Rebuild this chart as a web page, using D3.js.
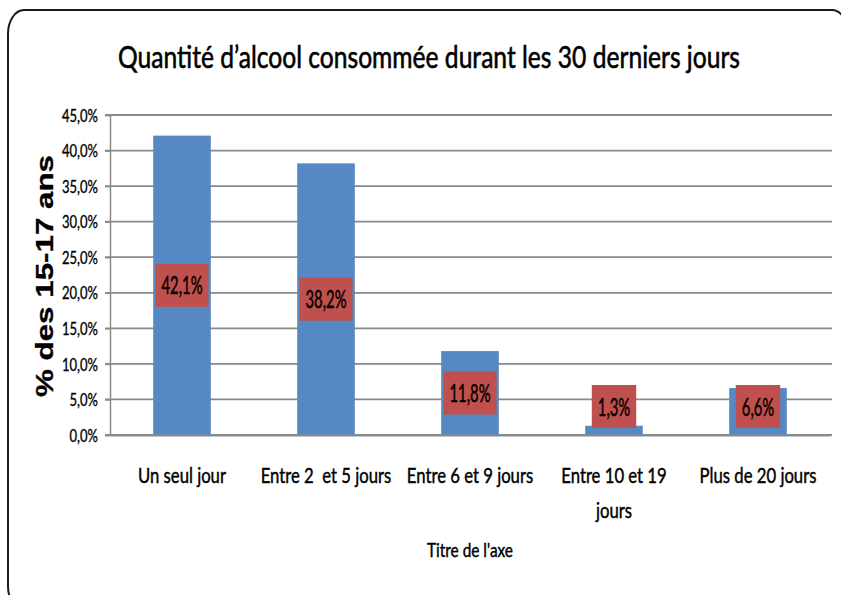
<!DOCTYPE html>
<html>
<head>
<meta charset="utf-8">
<script src="https://cdn.jsdelivr.net/npm/d3@7"></script>
<style>
  body { margin: 0; background: #fff; }
  svg { display: block; }
  text { font-family: Lato, sans-serif; fill: #000; white-space: pre; stroke: #000; stroke-width: 0.45px; }
</style>
</head>
<body>
<svg></svg>
<script>
// chart data
const categories = ['Un seul jour', 'Entre 2  et 5 jours', 'Entre 6 et 9 jours', 'Entre 10 et 19 jours', 'Plus de 20 jours']
const values = [42.1, 38.2, 11.8, 1.3, 6.6]
const yTicks = [0, 5, 10, 15, 20, 25, 30, 35, 40, 45]
const title = 'Quantité d’alcool consommée durant les 30 derniers jours'
const yTitle = '% des 15-17 ans'
const xTitle = "Titre de l'axe"

const w = 841
const h = 595
const plotLeft = 110
const plotRight = 830
const plotTop = 115
const plotBottom = 435

const svg = d3.select('svg')
  .attr('width', w)
  .attr('height', h)

// factor that makes `str` at `size` px come out `target` px wide
const factorFor = (str, size, target, weight) => {
  const p = svg.append('text').style('font-size', size + 'px').style('font-weight', weight || 'normal').text(str)
  const f = target / p.node().getComputedTextLength()
  p.remove()
  return f
}

// narrow every text of a selection by factor f
const squeeze = (sel, f) => {
  sel.each(function () {
    d3.select(this)
      .attr('textLength', this.getComputedTextLength() * f)
      .attr('lengthAdjust', 'spacingAndGlyphs')
  })
}

// frame
svg.append('rect')
  .attr('x', 8)
  .attr('y', 10)
  .attr('width', 840)
  .attr('height', 600)
  .attr('rx', 16)
  .attr('ry', 24)
  .attr('fill', '#fff')
  .attr('stroke', '#1a1a1a')
  .attr('stroke-width', 2)

// title
const titleText = svg.append('text')
  .attr('x', 429)
  .attr('y', 68)
  .attr('text-anchor', 'middle')
  .style('font-size', '31px')
  .style('stroke-width', '0.6px')
  .text(title)
squeeze(titleText, factorFor(title, 31, 622))

const fr = d3.formatLocale({ decimal: ',', thousands: ' ', grouping: [3], currency: ['', '€'] })
const pct = d => fr.format('.1%')(d / 100)

// scales
const xScale = d3.scaleBand()
  .domain(categories)
  .range([plotLeft, plotRight])
  .paddingInner(0.6)
  .paddingOuter(0.3)

const yScale = d3.scaleLinear()
  .domain([0, 45])
  .range([plotBottom, plotTop])

// gridlines
svg.append('g')
  .selectAll('line')
  .data(yTicks)
  .enter()
  .append('line')
  .attr('x1', plotLeft - 5)
  .attr('x2', plotRight + 2)
  .attr('y1', d => yScale(d))
  .attr('y2', d => yScale(d))
  .attr('stroke', '#8a8a8a')
  .attr('stroke-width', 1.8)

// y axis
const yAxis = svg.append('g')
  .attr('transform', `translate(${plotLeft}, 0)`)
  .call(d3.axisLeft(yScale).tickValues(yTicks).tickSize(5).tickFormat(pct))
yAxis.select('.domain').attr('stroke', '#8a8a8a').attr('stroke-width', 1.5)
yAxis.selectAll('.tick line').attr('stroke', '#8a8a8a').attr('stroke-width', 1.5)
yAxis.selectAll('.tick text')
  .attr('x', -12)
  .attr('dy', '0.36em')
  .style('font-size', '17px')
  .style('font-family', 'Lato, sans-serif')
  .style('stroke-width', '0.35px')
  .attr('fill', '#000')
squeeze(yAxis.selectAll('.tick text'), factorFor('45,0%', 17, 36))

// y axis title
const yT = svg.append('text')
  .attr('transform', 'translate(53, 276) rotate(-90)')
  .attr('text-anchor', 'middle')
  .style('font-family', '"Liberation Sans", Arial, sans-serif')
  .style('font-weight', 'bold')
  .style('font-size', '24px')
  .style('stroke-width', '0.3px')
  .text(yTitle)
squeeze(yT, 242 / yT.node().getComputedTextLength())

// bars
svg.append('g')
  .selectAll('rect')
  .data(values)
  .enter()
  .append('rect')
  .attr('x', (d, i) => xScale(categories[i]))
  .attr('y', d => yScale(d))
  .attr('width', xScale.bandwidth())
  .attr('height', d => plotBottom - yScale(d))
  .attr('fill', '#5689c4')

// x axis (category labels)
const xAxis = svg.append('g')
  .attr('transform', `translate(0, ${plotBottom})`)
  .call(d3.axisBottom(xScale).tickSize(0).tickFormat(''))
xAxis.select('.domain').attr('stroke', '#8a8a8a').attr('stroke-width', 1.8)
xAxis.selectAll('.tick text').remove()

const catSize = 21
const catF = factorFor(categories[0], catSize, 88)

xAxis.selectAll('.tick').each(function (d) {
  const g = d3.select(this)
  const words = d.split(' ')
  const lines = []
  let line = ''
  const m = g.append('text').style('font-size', catSize + 'px')
  words.forEach((word, k) => {
    const test = k === 0 ? word : line + ' ' + word
    m.text(test)
    if (m.node().getComputedTextLength() * catF > xScale.step() - 4 && line !== '') {
      lines.push(line)
      line = word
    } else {
      line = test
    }
  })
  lines.push(line)
  m.remove()
  lines.forEach((l, j) => {
    const t = g.append('text')
      .attr('y', 48 + j * 35)
      .attr('text-anchor', 'middle')
      .style('font-size', catSize + 'px')
      .style('font-family', 'Lato, sans-serif')
      .attr('fill', '#000')
      .text(l)
    squeeze(t, catF)
  })
})

// x axis title
const xT = svg.append('text')
  .attr('x', (plotLeft + plotRight) / 2)
  .attr('y', 557)
  .attr('text-anchor', 'middle')
  .style('font-size', '20px')
  .text(xTitle)
squeeze(xT, factorFor(xTitle, 20, 86))

// data labels
const boxH = 43
const labels = svg.append('g')
  .selectAll('g')
  .data(values)
  .enter()
  .append('g')
  .attr('transform', (d, i) => {
    const cx = xScale(categories[i]) + xScale.bandwidth() / 2
    const cy = Math.min((yScale(d) + plotBottom) / 2, plotBottom - 7 - boxH / 2)
    return `translate(${cx}, ${cy})`
  })

const labelText = labels.append('text')
  .attr('text-anchor', 'middle')
  .attr('dy', '0.36em')
  .style('font-size', '25px')
  .style('stroke-width', '0.5px')
  .text(pct)
squeeze(labelText, factorFor('42,1%', 25, 41))

labels.insert('rect', 'text')
  .each(function () {
    const tw = +d3.select(this.parentNode).select('text').attr('textLength')
    d3.select(this)
      .attr('x', -tw / 2 - 6)
      .attr('y', -boxH / 2)
      .attr('width', tw + 12)
      .attr('height', boxH)
  })
  .attr('fill', '#c0504d')
</script>
</body>
</html>
